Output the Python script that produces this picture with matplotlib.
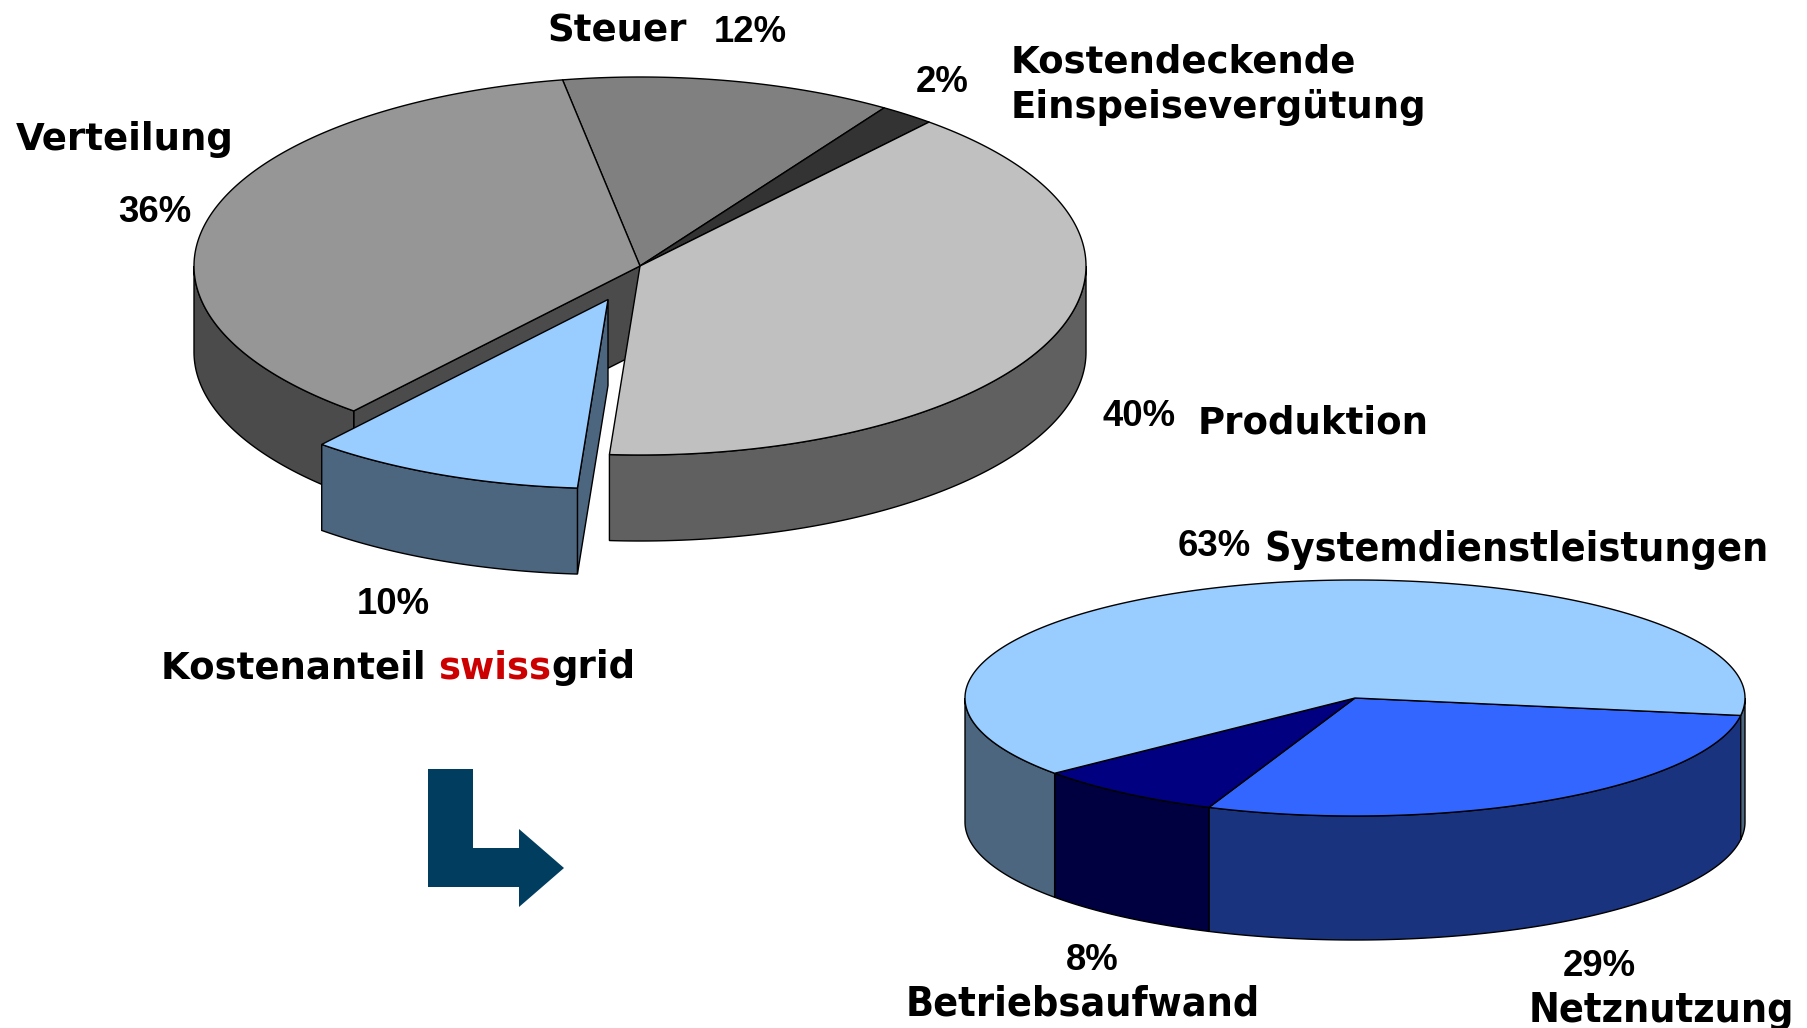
import numpy as np
import matplotlib
matplotlib.use('Agg')
import matplotlib.pyplot as plt
from matplotlib.patches import Polygon
import logging

logging.getLogger('matplotlib.font_manager').setLevel(logging.ERROR)

# shares in percent, clockwise from the start angle
top_labels = ['Steuer', 'Kostendeckende\nEinspeisevergütung', 'Produktion', 'swissgrid', 'Verteilung']
top_shares = [12, 2, 39.87, 10, 36.13]
top_colors = ['#808080', '#333333', '#C0C0C0', '#99CCFF', '#969696']
top_sides = ['#404040', '#1A1A1A', '#606060', '#4D6680', '#4B4B4B']
top_explode = [False, False, False, True, False]

low_labels = ['Netznutzung', 'Betriebsaufwand', 'Systemdienstleistungen']
low_shares = [28.75, 7.88, 63.37]
low_colors = ['#3366FF', '#000080', '#99CCFF']
low_sides = ['#1A337F', '#000040', '#4D6680']
low_explode = [False, False, False]

arrow_color = '#003D5F'
swiss_red = '#CC0000'


def rim(cx, cy, rx, ry, a, b):
    t = np.radians(np.linspace(a, b, max(int(abs(a - b)) * 2, 2)))
    return np.column_stack([cx + rx * np.cos(t), cy - ry * np.sin(t)])


def draw_faces(ax, cx, cy, rx, ry, depth, a, b, side):
    # cut faces, only those turned towards the viewer
    for ang, visible in ((a, np.cos(np.radians(a)) < 0), (b, np.cos(np.radians(b)) > 0)):
        if visible:
            p = rim(cx, cy, rx, ry, ang, ang)[0]
            ax.add_patch(Polygon([(cx, cy), p, p + (0, depth), (cx, cy + depth)],
                                 fc=side, ec='black', lw=1))


def draw_wall(ax, cx, cy, rx, ry, depth, a, b, side):
    # outer wall, lower half of the ellipse only
    for shift in (0, 360):
        x1, x2 = max(b + shift, -180), min(a + shift, 0)
        if x1 < x2:
            arc = rim(cx, cy, rx, ry, x2, x1)
            ax.add_patch(Polygon(np.vstack([arc, arc[::-1] + (0, depth)]),
                                 fc=side, ec='black', lw=1))


def draw_top(ax, cx, cy, rx, ry, a, b, color):
    ax.add_patch(Polygon(np.vstack([[(cx, cy)], rim(cx, cy, rx, ry, a, b)]),
                         fc=color, ec='black', lw=1))


def draw_pie(ax, shares, colors, sides, explode, start, cx, cy, rx, ry, depth, offset=(0, 0)):
    angles = start - np.cumsum([0] + list(shares)) * 3.6
    keep = [i for i in range(len(shares)) if not explode[i]]
    moved = [i for i in range(len(shares)) if explode[i]]
    for i in keep:
        draw_faces(ax, cx, cy, rx, ry, depth, angles[i], angles[i + 1], sides[i])
    for i in keep:
        draw_wall(ax, cx, cy, rx, ry, depth, angles[i], angles[i + 1], sides[i])
    for i in keep:
        draw_top(ax, cx, cy, rx, ry, angles[i], angles[i + 1], colors[i])
    for i in moved:
        ox, oy = cx + offset[0], cy + offset[1]
        draw_faces(ax, ox, oy, rx, ry, depth, angles[i], angles[i + 1], sides[i])
        draw_wall(ax, ox, oy, rx, ry, depth, angles[i], angles[i + 1], sides[i])
        draw_top(ax, ox, oy, rx, ry, angles[i], angles[i + 1], colors[i])


fig = plt.figure(figsize=(18.07, 10.28), dpi=100)
ax = fig.add_axes([0, 0, 1, 1])
ax.set_xlim(0, 1807)
ax.set_ylim(1028, 0)
ax.axis('off')

draw_pie(ax, top_shares, top_colors, top_sides, top_explode, 100, 640, 266, 446, 189, 86, offset=(-32, 33.5))
draw_pie(ax, low_shares, low_colors, low_sides, low_explode, -8.5, 1355, 698, 390, 118, 124)

# the arrow pointing to the second pie
ax.add_patch(Polygon([(428, 769), (473, 769), (473, 848), (519, 848), (519, 829), (564, 868),
                      (519, 907), (519, 887), (428, 887)], fc=arrow_color, ec='none'))

bold = dict(family='DejaVu Sans', weight='bold', fontsize=26.7, va='center', ha='left', color='black')
narrow = dict(family='DejaVu Sans', stretch='condensed', weight='bold', fontsize=29.5, va='center', ha='left')
pct = dict(family='Liberation Sans', weight='bold', fontsize=26.3, va='center', ha='left')

ax.text(547, 31, top_labels[0], **bold)
ax.text(1011, 62, 'Kostendeckende', **bold)
ax.text(1011, 107, 'Einspeisevergütung', **bold)
ax.text(16, 139, top_labels[4], **bold)
ax.text(1198, 423, top_labels[2], **bold)

for s, x, y in [(top_shares[0], 714, 33), (top_shares[1], 916, 83), (top_shares[4], 118, 213),
                (top_shares[2], 1103, 417), (top_shares[3], 357, 604)]:
    ax.text(x, y, f'{round(s)}%', **pct)

# title runs in three colours, each part starts where the last one ended
fig.canvas.draw()
x = 161
for part, color in [('Kostenanteil ', 'black'), ('swiss', swiss_red), ('grid', 'black')]:
    t = ax.text(x, 668, part.replace(' ', '\u00a0'), **{**bold, 'color': color})
    x = t.get_window_extent(fig.canvas.get_renderer()).x1

ax.text(1264, 550, low_labels[2], **narrow)
ax.text(906, 1004, low_labels[1], **narrow)
ax.text(1529, 1011, low_labels[0], **narrow)
for s, x, y in [(low_shares[2], 1178, 547), (low_shares[1], 1066, 961), (low_shares[0], 1563, 967)]:
    ax.text(x, y, f'{round(s)}%', **pct)

fig.savefig('out.png', dpi=100, facecolor='white')
